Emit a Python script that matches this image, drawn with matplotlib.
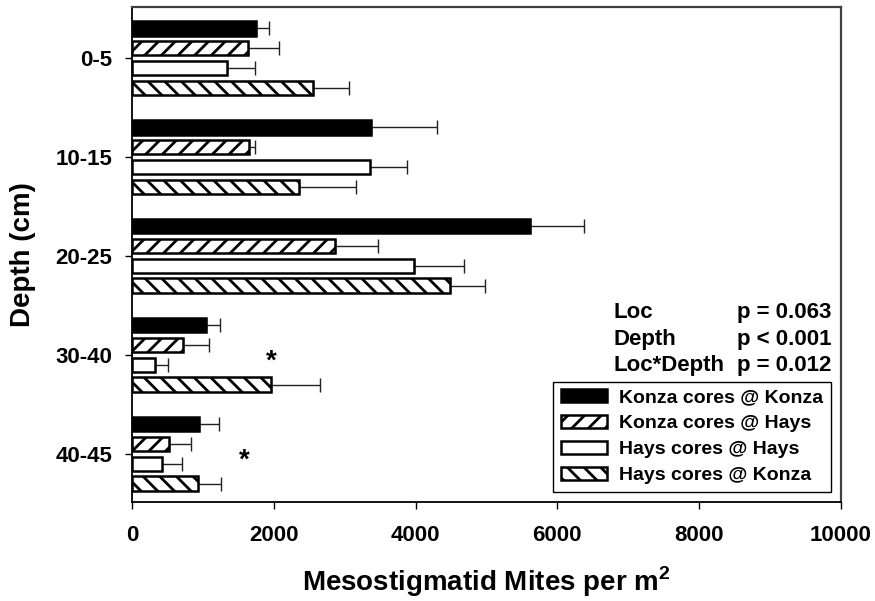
import matplotlib
matplotlib.use('Agg')
import matplotlib.pyplot as plt
from matplotlib.patches import Patch
import numpy as np

plt.rcParams['font.family'] = ['Liberation Sans', 'DejaVu Sans']
plt.rcParams['font.weight'] = 'bold'
plt.rcParams['axes.labelweight'] = 'bold'
plt.rcParams['mathtext.fontset'] = 'custom'
plt.rcParams['mathtext.rm'] = 'Liberation Sans:bold'
plt.rcParams['mathtext.bf'] = 'Liberation Sans:bold'
plt.rcParams['hatch.linewidth'] = 2.0

# depth classes and mite densities (per m2), with upper SE
depths = ['0-5', '10-15', '20-25', '30-40', '40-45']
series = ['Konza cores @ Konza', 'Konza cores @ Hays',
          'Hays cores @ Hays', 'Hays cores @ Konza']
konza_at_konza = [1750, 3370, 5620, 1040, 940]
konza_at_konza_se = [180, 930, 760, 200, 280]
konza_at_hays = [1640, 1645, 2865, 725, 525]
konza_at_hays_se = [430, 85, 600, 365, 305]
hays_at_hays = [1335, 3360, 3985, 320, 425]
hays_at_hays_se = [405, 515, 700, 190, 285]
hays_at_konza = [2560, 2355, 4490, 1955, 935]
hays_at_konza_se = [500, 800, 485, 690, 320]

stats_terms = ['Loc', 'Depth', 'Loc*Depth']
stats_p = ['p = 0.063', 'p < 0.001', 'p = 0.012']
signif_depths = ['30-40', '40-45']

values = [konza_at_konza, konza_at_hays, hays_at_hays, hays_at_konza]
errors = [konza_at_konza_se, konza_at_hays_se, hays_at_hays_se, hays_at_konza_se]
faces = ['black', 'white', 'white', 'white']
hatches = [None, '//', None, '\\\\']
offsets = [-0.3, -0.1, 0.1, 0.3]

fig = plt.figure(figsize=(8.75, 6.01), dpi=100)
ax = fig.add_axes([0.1509, 0.1642, 0.81, 0.8247])

y = np.arange(len(depths))
for vals, errs, fc, h, off in zip(values, errors, faces, hatches, offsets):
    ax.barh(y + off, vals, height=0.145, color=fc, edgecolor='black',
            linewidth=1.8, hatch=h, zorder=2)
    ax.errorbar(vals, y + off, xerr=[np.zeros(len(errs)), errs], fmt='none',
                ecolor='#222222', elinewidth=1.0, capsize=4.7, capthick=1.0,
                zorder=1)

for d in signif_depths:
    i = depths.index(d)
    xpos = 1960 if d == '30-40' else 1580
    ax.text(xpos, i + 0.07, '*', fontsize=20, ha='center', va='center')

for k, (term, p) in enumerate(zip(stats_terms, stats_p)):
    ax.text(6790, 2.57 + 0.27 * k, term, fontsize=16, va='center', ha='left')
    ax.text(8540, 2.57 + 0.27 * k, p, fontsize=16, va='center', ha='left')

ax.set_xlim(0, 10000)
ax.set_ylim(4.49, -0.52)
ax.set_xticks(np.arange(0, 10001, 2000))
ax.set_yticks(y)
ax.set_yticklabels(depths)
ax.tick_params(axis='both', labelsize=16, length=5, width=1.0, direction='out')
ax.tick_params(axis='y', pad=9)
ax.tick_params(axis='x', pad=11)

for s in ['left', 'bottom']:
    ax.spines[s].set_linewidth(1.3)
    ax.spines[s].set_color('black')
for s in ['top', 'right']:
    ax.spines[s].set_linewidth(1.6)
    ax.spines[s].set_color('#404040')

ax.set_xlabel('Mesostigmatid Mites per m$^{2}$', fontsize=20, labelpad=14)
ax.set_ylabel('Depth (cm)', fontsize=20, labelpad=14)

handles = [Patch(facecolor=fc, edgecolor='black', linewidth=1.8, hatch=h)
           for fc, h in zip(faces, hatches)]
leg = ax.legend(handles, series, loc='lower right', bbox_to_anchor=(0.986, 0.021),
                borderaxespad=0, fontsize=14, handlelength=2.4, handleheight=0.62,
                handletextpad=0.6, labelspacing=0.45, borderpad=0.4,
                fancybox=False, framealpha=1, edgecolor='black')
leg.get_frame().set_linewidth(1.0)

fig.savefig('out.png', dpi=100)
